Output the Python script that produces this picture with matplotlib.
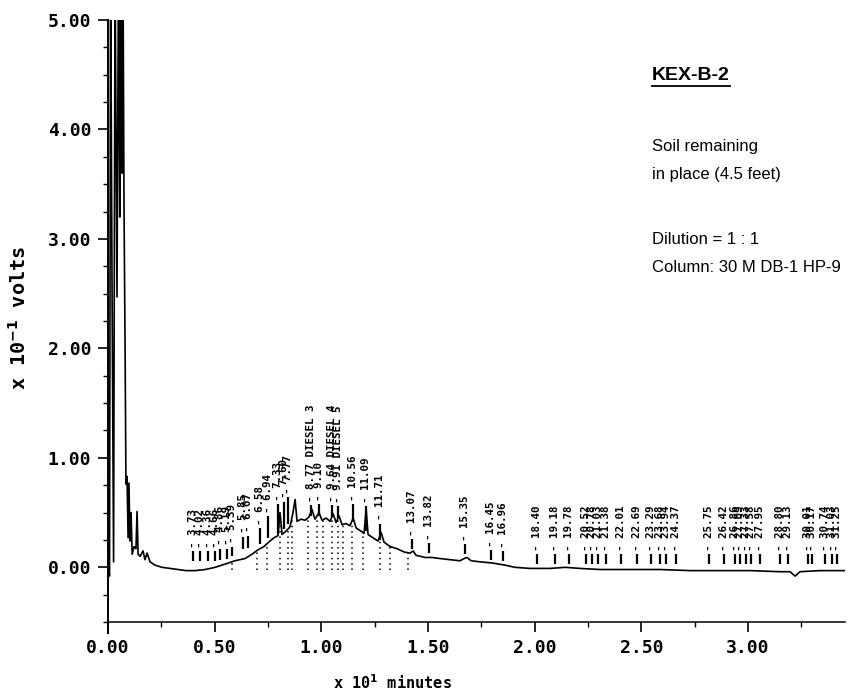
import numpy as np
import matplotlib.pyplot as plt
from matplotlib.lines import Line2D
from matplotlib.ticker import MultipleLocator, FormatStrFormatter

plt.rcParams['font.family'] = ['DejaVu Sans Mono']
plt.rcParams['font.weight'] = 'bold'

# detector trace: x in 10 min, y in 0.1 V
trace_x = [0.002, 0.007, 0.012, 0.019, 0.026, 0.033, 0.042, 0.049, 0.055, 0.058,
           0.061, 0.064, 0.067, 0.070, 0.075, 0.080, 0.084, 0.089, 0.094, 0.098,
           0.103, 0.108, 0.113, 0.122, 0.131, 0.136, 0.141, 0.150, 0.164, 0.173,
           0.183, 0.197, 0.220, 0.253, 0.291, 0.328, 0.366, 0.408, 0.455, 0.502,
           0.549, 0.595, 0.642, 0.675, 0.703, 0.731, 0.759, 0.778, 0.797, 0.806,
           0.816, 0.834, 0.853, 0.867, 0.877, 0.886, 0.905, 0.924, 0.942, 0.956,
           0.970, 0.989, 1.003, 1.022, 1.041, 1.055, 1.069, 1.083, 1.097, 1.116,
           1.134, 1.149, 1.163, 1.186, 1.200, 1.210, 1.219, 1.242, 1.266, 1.280,
           1.294, 1.322, 1.355, 1.388, 1.416, 1.430, 1.444, 1.486, 1.519, 1.557,
           1.603, 1.650, 1.669, 1.683, 1.702, 1.744, 1.800, 1.861, 1.908, 1.978,
           2.072, 2.143, 2.213, 2.307, 2.447, 2.588, 2.729, 2.869, 3.010, 3.150,
           3.197, 3.221, 3.244, 3.338, 3.455]
trace_y = [-0.01, -0.08, 5.5, 2.47, 0.05, 5.5, 2.47, 5.5, 3.20, 5.5,
           4.10, 5.5, 3.60, 5.5, 3.28, 1.98, 0.76, 0.83, 0.27, 0.77,
           0.24, 0.50, 0.12, 0.19, 0.17, 0.51, 0.12, 0.10, 0.15, 0.07,
           0.13, 0.05, 0.02, 0.00, -0.01, -0.02, -0.03, -0.03, -0.02, 0.00,
           0.03, 0.06, 0.08, 0.12, 0.16, 0.19, 0.24, 0.27, 0.29, 0.50,
           0.30, 0.33, 0.37, 0.50, 0.62, 0.42, 0.44, 0.43, 0.46, 0.53,
           0.44, 0.50, 0.43, 0.45, 0.42, 0.49, 0.41, 0.47, 0.39, 0.40,
           0.38, 0.45, 0.36, 0.33, 0.31, 0.53, 0.30, 0.27, 0.24, 0.32,
           0.23, 0.19, 0.17, 0.14, 0.13, 0.15, 0.11, 0.09, 0.09, 0.08,
           0.07, 0.06, 0.08, 0.09, 0.06, 0.05, 0.04, 0.02, 0.00, -0.01,
           -0.01, 0.00, -0.01, -0.02, -0.02, -0.02, -0.03, -0.03, -0.03, -0.04,
           -0.04, -0.08, -0.04, -0.03, -0.03]

# baseline drop lines under the hump
drop_x = [0.581, 0.699, 0.745, 0.806, 0.844, 0.863, 0.938, 0.980, 1.008, 1.050,
          1.078, 1.102, 1.144, 1.196, 1.275, 1.322, 1.406]

# integrator peak marks
peak_labels = ["3.73", "4.02", "4.36", "4.66", "4.86", "5.19", "5.39", "5.85", "6.07",
               "6.58", "6.94", "7.33", "7.60", "7.77", "8.77 DIESEL 3", "9.10",
               "9.64 DIESEL 4", "9.91 DIESEL 5", "10.56", "11.09", "11.71", "13.07",
               "13.82", "15.35", "16.45", "16.96", "18.40", "19.18", "19.78", "20.52",
               "20.78", "21.03", "21.38", "22.01", "22.69", "23.29", "23.68", "23.94",
               "24.37", "25.75", "26.42", "26.86", "27.09", "27.33", "27.58", "27.95",
               "28.80", "29.13", "30.01", "30.17", "30.74", "31.03", "31.25"]
peak_x = [0.400, 0.432, 0.469, 0.502, 0.524, 0.560, 0.582, 0.632, 0.656, 0.713,
          0.752, 0.795, 0.824, 0.843, 0.953, 0.989, 1.048, 1.078, 1.149, 1.207,
          1.275, 1.424, 1.507, 1.675, 1.795, 1.851, 2.009, 2.095, 2.161, 2.242,
          2.271, 2.298, 2.336, 2.405, 2.480, 2.546, 2.588, 2.617, 2.664, 2.816,
          2.889, 2.937, 2.963, 2.989, 3.016, 3.057, 3.150, 3.186, 3.283, 3.301,
          3.363, 3.395, 3.419]
tick_lo = [0.06, 0.06, 0.06, 0.06, 0.07, 0.08, 0.10, 0.17, 0.18, 0.21,
           0.27, 0.30, 0.35, 0.40, 0.47, 0.47, 0.46, 0.45, 0.42, 0.33,
           0.25, 0.17, 0.13, 0.12, 0.07, 0.06] + [0.03] * 27
tick_hi = [0.15, 0.15, 0.15, 0.15, 0.17, 0.17, 0.19, 0.28, 0.29, 0.36,
           0.47, 0.58, 0.60, 0.64, 0.57, 0.58, 0.57, 0.56, 0.58, 0.56,
           0.40, 0.26, 0.22, 0.21, 0.16, 0.15] + [0.12] * 27

fig = plt.figure(figsize=(8.48, 6.96), dpi=100)
ax = fig.add_axes([0.1274, 0.0905, 0.8691, 0.8808])

ax.plot(trace_x, trace_y, color='black', lw=1.2)

drop_top = np.interp(drop_x, trace_x, trace_y)
ax.vlines(drop_x, -0.02, drop_top, colors='black', lw=1.1, linestyles=(0, (1, 2.5)))

ax.vlines(peak_x, tick_lo, tick_hi, colors='black', lw=1.6)
for lab, x, hi in zip(peak_labels, peak_x, tick_hi):
    ax.text(x, hi + 0.03, "- " + lab, rotation=90, ha='center', va='bottom',
            fontsize=7.8, fontweight='bold')

ax.set_xlim(0, 3.455)
ax.set_ylim(-0.6, 5.0)
ax.spines['top'].set_visible(False)
ax.spines['right'].set_visible(False)
ax.spines['bottom'].set_position(('data', -0.5))
ax.spines['left'].set_linewidth(1.4)
ax.spines['bottom'].set_linewidth(1.1)

ax.xaxis.set_major_locator(MultipleLocator(0.5))
ax.xaxis.set_minor_locator(MultipleLocator(0.25))
ax.yaxis.set_major_locator(MultipleLocator(1.0))
ax.yaxis.set_minor_locator(MultipleLocator(0.25))
ax.xaxis.set_major_formatter(FormatStrFormatter('%.2f'))
ax.yaxis.set_major_formatter(FormatStrFormatter('%.2f'))
ax.tick_params(axis='both', which='major', direction='out', length=7, width=1.2,
               labelsize=13, pad=5)
ax.tick_params(axis='both', which='minor', direction='out', length=3.5, width=1.0)

fig.text(392 / 848, 1 - 683 / 696, r'x 10$^{\mathbf{1}}$ minutes', ha='center',
         va='center', fontsize=11, fontweight='bold')
fig.text(19 / 848, 1 - 318 / 696, r'x 10$^{\mathbf{-1}}$ volts', ha='center',
         va='center', rotation=90, fontsize=14.5, fontweight='bold')

side = dict(family='Liberation Sans', ha='left', va='center', fontsize=12,
            fontweight='normal')
title = fig.text(652 / 848, 1 - 75 / 696, 'KEX-B-2', family='Liberation Sans',
                 ha='left', va='center', fontsize=14, fontweight='bold')
fig.text(652 / 848, 1 - 147 / 696, 'Soil remaining', **side)
fig.text(652 / 848, 1 - 175 / 696, 'in place (4.5 feet)', **side)
fig.text(652 / 848, 1 - 240 / 696, 'Dilution = 1 : 1', **side)
fig.text(652 / 848, 1 - 268 / 696, 'Column: 30 M DB-1 HP-9', **side)

fig.canvas.draw()
bb = title.get_window_extent().transformed(fig.transFigure.inverted())
fig.add_artist(Line2D([bb.x0, bb.x1], [bb.y0 - 0.004, bb.y0 - 0.004],
                      color='black', lw=1.3, transform=fig.transFigure))

fig.savefig('out.png', dpi=100)
